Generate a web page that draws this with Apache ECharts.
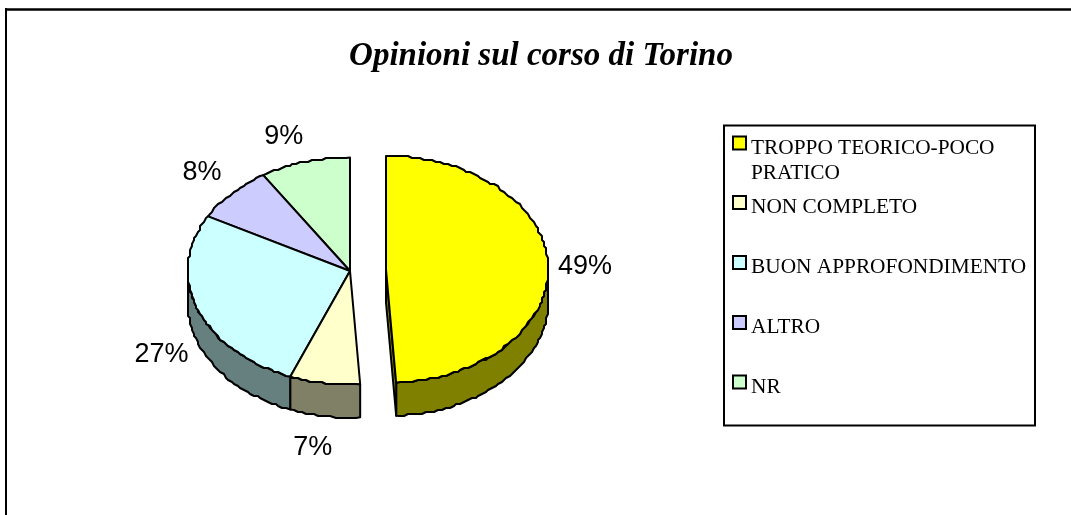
<!DOCTYPE html>
<html>
<head>
<meta charset="utf-8">
<style>
html, body { margin: 0; padding: 0; background: #fff; }
#main { width: 1071px; height: 515px; }
</style>
<script src="https://cdn.jsdelivr.net/npm/echarts@6/dist/echarts.min.js"></script>
</head>
<body>
<div id="main"></div>
<script>
var categories = ['TROPPO TEORICO-POCO\nPRATICO', 'NON COMPLETO', 'BUON APPROFONDIMENTO', 'ALTRO', 'NR'];
var values = [49, 7, 27, 8, 9];

// aspetto, separato dai dati
var topColors = ['#ffff00', '#ffffcc', '#ccffff', '#ccccff', '#ccffcc'];
var sideColors = ['#808000', '#808066', '#668080', '#666680', '#668066'];
var iconCenters = [143, 202.5, 262.5, 322.5, 382];
var labelOffsets = [[37, 1], [-12, 64], [-36, 45], [-30, -21], [-21, -25]];
var pie = { cx: 350, cy: 271, rx: 162, ry: 113.5, depth: 33, explodeX: 36, explodeY: -1.5 };

var total = values.reduce(function (a, b) { return a + b; }, 0);
var DEG_STEP = 1.5;
var GRID = 2; // il bordo leggermente a scalini dell'originale

function pt(c, a, dy) {
    return [c[0] + pie.rx * Math.sin(a), c[1] - pie.ry * Math.cos(a) + (dy || 0)];
}

function snap(p) {
    return [Math.round(p[0] / GRID) * GRID, Math.round(p[1] / GRID) * GRID];
}

function arcPoints(c, from, to, dy) {
    var pts = [];
    var n = Math.max(2, Math.ceil((to - from) / (DEG_STEP * Math.PI / 180)));
    for (var i = 0; i <= n; i++) {
        var p = pt(c, from + (to - from) * i / n, dy);
        pts.push(i === 0 || i === n ? p : snap(p));
    }
    return pts;
}

function makeSlice(index) {
    return function (params, api) {
        var before = 0;
        for (var i = 0; i < index; i++) before += values[i];
        var v = api.value(0);
        var a0 = before / total * Math.PI * 2;
        var a1 = (before + v) / total * Math.PI * 2;
        var mid = (a0 + a1) / 2;
        var c = index === 0 ? [pie.cx + pie.explodeX, pie.cy + pie.explodeY] : [pie.cx, pie.cy];
        var lineStyle = { stroke: '#000', lineWidth: 2, lineJoin: 'round' };
        var children = [];

        // parte frontale del bordo
        var s0 = Math.max(a0, Math.PI / 2);
        var s1 = Math.min(a1, Math.PI * 1.5);
        if (s1 > s0) {
            var upper = arcPoints(c, s0, s1, 0);
            var lower = arcPoints(c, s0, s1, pie.depth).reverse();
            children.push({
                type: 'polygon',
                shape: { points: upper.concat(lower) },
                style: Object.assign({ fill: sideColors[index] }, lineStyle)
            });
        }
        // taglio interno visibile della fetta staccata
        if (index === 0) {
            var e = pt(c, a1, 0);
            children.push({
                type: 'polygon',
                shape: { points: [c, e, [e[0], e[1] + pie.depth], [c[0], c[1] + pie.depth]] },
                style: Object.assign({ fill: sideColors[index] }, lineStyle)
            });
        }
        // faccia superiore
        children.push({
            type: 'polygon',
            shape: { points: [c].concat(arcPoints(c, a0, a1, 0)) },
            style: Object.assign({ fill: topColors[index] }, lineStyle)
        });
        // etichetta
        var p = pt(c, mid, 0);
        children.push({
            type: 'text',
            style: {
                text: v + '%',
                x: p[0] + labelOffsets[index][0],
                y: p[1] + labelOffsets[index][1],
                align: 'center',
                verticalAlign: 'middle',
                fill: '#000',
                fontFamily: 'Liberation Sans',
                fontSize: 27
            }
        });
        return { type: 'group', children: children };
    };
}

function legendLabel(name) {
    // riga vuota in testa: il testo sta 5px sotto il quadratino, come nell'originale
    var lines = name.split('\n');
    var spacer = lines.length > 1 ? 's2' : 's1';
    return '{' + spacer + '| }\n' + lines.map(function (l) { return '{t|' + l + '}'; }).join('\n');
}

var dom = document.getElementById('main');
var myChart = echarts.init(dom);
var option = {
    animation: false,
    backgroundColor: '#fff',
    title: {
        text: 'Opinioni sul corso di Torino',
        left: 536,
        top: 35,
        textAlign: 'center',
        textStyle: {
            fontFamily: 'Liberation Serif',
            fontStyle: 'italic',
            fontWeight: 'bold',
            fontSize: 33,
            color: '#000'
        }
    },
    legend: categories.map(function (name, i) {
        var h = name.indexOf('\n') >= 0 ? 85 : 35;
        return {
            data: [name],
            orient: 'vertical',
            left: 732,
            top: iconCenters[i] - h / 2,
            selectedMode: false,
            icon: 'rect',
            itemWidth: 13,
            itemHeight: 13,
            padding: 0,
            itemStyle: { borderColor: '#000', borderWidth: 2 },
            formatter: legendLabel,
            textStyle: {
                color: '#000',
                rich: {
                    s1: { height: 10, lineHeight: 10, fontSize: 1 },
                    s2: { height: 35, lineHeight: 35, fontSize: 1 },
                    t: { fontFamily: 'Liberation Serif', fontSize: 21.33, lineHeight: 25, color: '#000' }
                }
            }
        };
    }),
    series: categories.map(function (name, i) {
        return {
            name: name,
            type: 'custom',
            coordinateSystem: 'none',
            silent: true,
            z: 5 - i,
            itemStyle: { color: topColors[i], borderColor: '#000', borderWidth: 2 },
            renderItem: makeSlice(i),
            data: [[values[i]]]
        };
    }),
    graphic: [
        { type: 'line', shape: { x1: 5, y1: 9.5, x2: 1071, y2: 9.5 }, style: { stroke: '#000', lineWidth: 2.5 } },
        { type: 'line', shape: { x1: 6, y1: 8, x2: 6, y2: 515 }, style: { stroke: '#000', lineWidth: 2 } },
        { type: 'rect', shape: { x: 724, y: 125.5, width: 311, height: 300 }, style: { fill: 'none', stroke: '#000', lineWidth: 2 }, z: -1 }
    ]
};
myChart.setOption(option);
</script>
</body>
</html>
